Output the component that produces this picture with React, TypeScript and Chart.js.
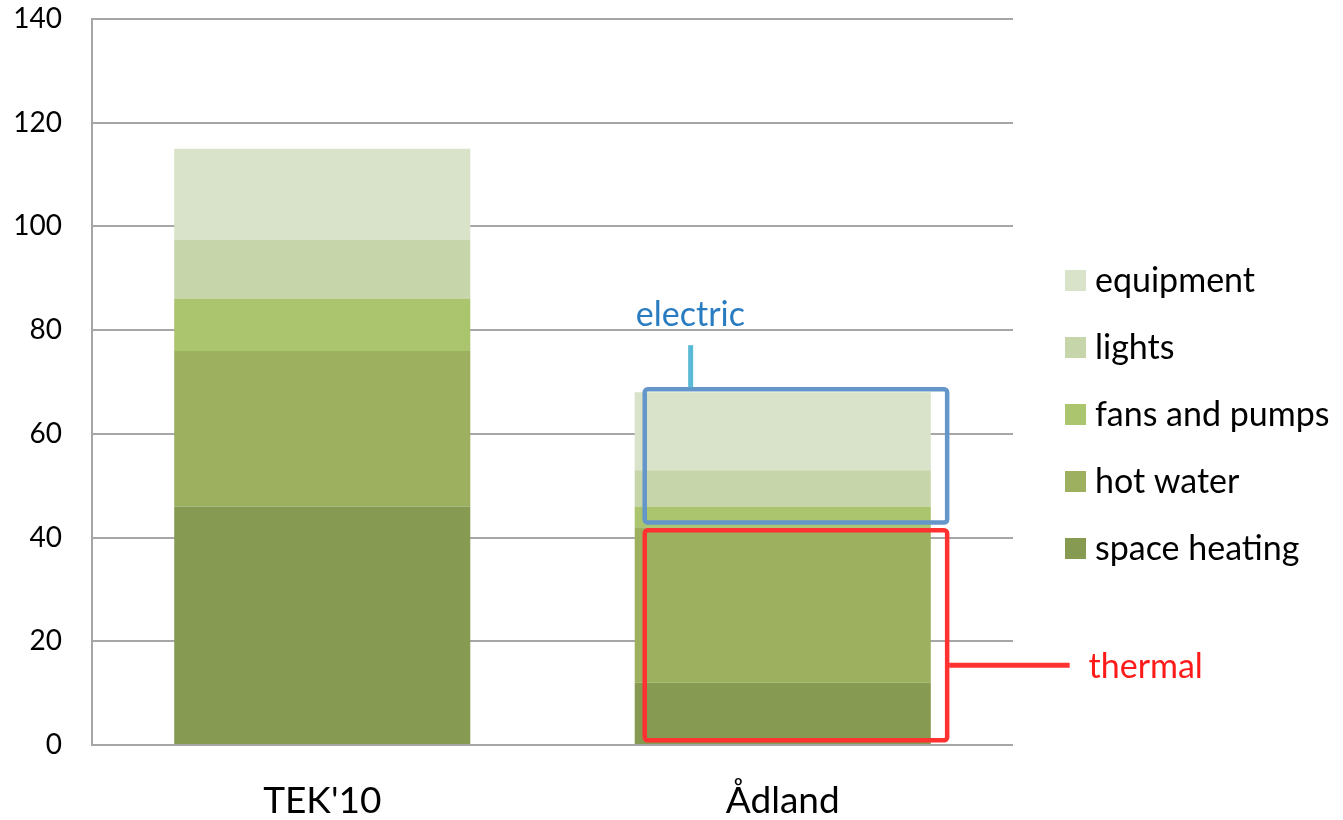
import React, { useEffect, useRef } from "react";
import { Chart, registerables } from "chart.js";

Chart.register(...registerables);

// ---- data ----
const categories = ["TEK'10", "Ådland"];
const seriesLabels = ["space heating", "hot water", "fans and pumps", "lights", "equipment"];
const spaceHeating = [46, 12];
const hotWater = [30, 30];
const fansAndPumps = [10, 4];
const lights = [11.5, 7];
const equipment = [17.5, 15];
const seriesColors = ["#879a52", "#9cb05f", "#abc46e", "#c6d5aa", "#d9e3ca"];
const yMin = 0;
const yMax = 140;
const yStep = 20;
// annotation ranges (value units) on the Ådland bar
const electricRange = [42.9, 68.6];
const thermalRange = [0.9, 41.4];
const electricLabel = "electric";
const thermalLabel = "thermal";

const FONT = "Lato, 'Open Sans', 'DejaVu Sans', sans-serif";

const seriesValues = [spaceHeating, hotWater, fansAndPumps, lights, equipment];

const overlayPlugin = {
  id: "overlay",
  afterDraw(chart: any) {
    const { ctx, chartArea, scales } = chart;
    const xs = scales.x;
    const ys = scales.y;
    const catW = (chartArea.right - chartArea.left) / categories.length;
    const cx = xs.getPixelForValue(1);
    const left = cx - 0.2997 * catW;
    const right = cx + 0.357 * catW;

    ctx.save();
    // electric box
    const eTop = ys.getPixelForValue(electricRange[1]);
    const eBot = ys.getPixelForValue(electricRange[0]);
    ctx.lineWidth = 4.5;
    ctx.strokeStyle = "#6496c9";
    ctx.beginPath();
    (ctx as any).roundRect(left, eTop, right - left, eBot - eTop, 3);
    ctx.stroke();

    // thermal box
    const tTop = ys.getPixelForValue(thermalRange[1]);
    const tBot = ys.getPixelForValue(thermalRange[0]);
    ctx.strokeStyle = "#ff3131";
    ctx.beginPath();
    (ctx as any).roundRect(left, tTop, right - left, tBot - tTop, 3);
    ctx.stroke();

    // cyan connector
    const lx = cx - 0.2 * catW;
    ctx.strokeStyle = "#5ab9d6";
    ctx.lineWidth = 5;
    ctx.beginPath();
    ctx.moveTo(lx, ys.getPixelForValue(77.1));
    ctx.lineTo(lx, eTop - 2);
    ctx.stroke();

    // red connector
    const ry = ys.getPixelForValue(15.4);
    ctx.strokeStyle = "#ff3131";
    ctx.beginPath();
    ctx.moveTo(right + 2, ry);
    ctx.lineTo(cx + 0.623 * catW, ry);
    ctx.stroke();

    // labels
    ctx.font = `34px ${FONT}`;
    ctx.textAlign = "left";
    ctx.textBaseline = "middle";
    ctx.fillStyle = "#2a7cc1";
    ctx.fillText(electricLabel, cx - 0.319 * catW, ys.getPixelForValue(82.9));
    ctx.fillStyle = "#ff1a1a";
    ctx.fillText(thermalLabel, cx + 0.664 * catW, ry + 2);

    // legend (reversed)
    const boxX = chartArea.right + 52;
    const boxS = 21;
    const y0 = 280.5;
    const dy = 67;
    ctx.font = `34px ${FONT}`;
    ctx.fillStyle = "#000";
    const n = chart.data.datasets.length;
    for (let i = 0; i < n; i++) {
      const ds = chart.data.datasets[n - 1 - i];
      const yc = y0 + i * dy;
      ctx.fillStyle = ds.backgroundColor;
      ctx.fillRect(boxX, yc - boxS / 2, boxS, boxS);
      ctx.fillStyle = "#000";
      ctx.fillText(ds.label, boxX + boxS + 9, yc + 1);
    }
    ctx.restore();
  },
};

export default function App() {
  const ref = useRef<HTMLCanvasElement | null>(null);
  useEffect(() => {
    if (!ref.current) return;
    const chart = new Chart(ref.current, {
      type: "bar",
      data: {
        labels: categories,
        datasets: seriesLabels.map((label, i) => ({
          label,
          data: seriesValues[i],
          backgroundColor: seriesColors[i],
          borderWidth: 0,
          barPercentage: 0.643,
          categoryPercentage: 1,
        })),
      },
      options: {
        responsive: false,
        animation: false,
        layout: { padding: { top: 19, right: 330, bottom: 0, left: 0 } },
        plugins: { legend: { display: false }, tooltip: { enabled: false } },
        scales: {
          x: {
            stacked: true,
            grid: { display: false },
            border: { display: false },
            ticks: { color: "#000", font: { family: FONT, size: 37 }, padding: 26 },
            afterFit: (s: any) => {
              s.height = 75;
            },
          },
          y: {
            stacked: true,
            min: yMin,
            max: yMax,
            ticks: { stepSize: yStep, color: "#000", font: { family: FONT, size: 28 }, padding: 30 },
            grid: { color: "#a6a6a6", lineWidth: 2, drawTicks: false },
            border: { display: true, color: "#a6a6a6", width: 2 },
            afterFit: (s: any) => {
              s.width = 92;
              s.paddingTop = 0;
              s.paddingBottom = 0;
            },
          },
        },
      },
      plugins: [overlayPlugin],
    });
    return () => chart.destroy();
  }, []);
  return (
    <div style={{ position: "absolute", left: 0, top: 0, width: 1343, height: 820, background: "#fff" }}>
      <canvas ref={ref} width={1343} height={820} style={{ display: "block" }} />
    </div>
  );
}
